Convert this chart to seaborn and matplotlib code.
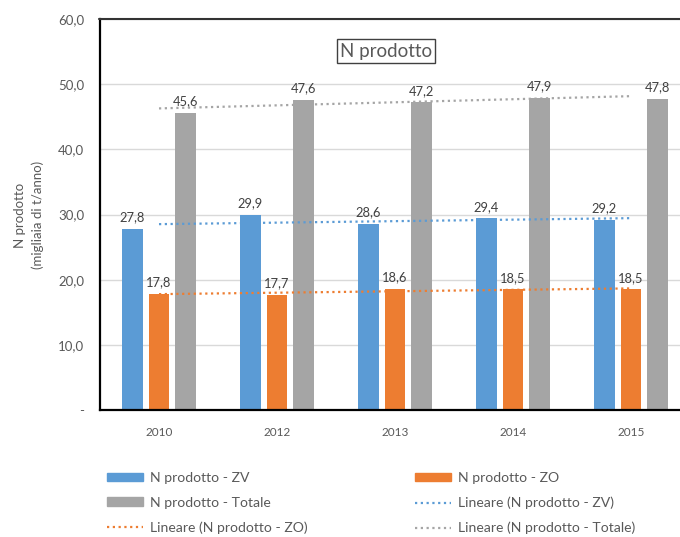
import numpy as np
import pandas as pd
import matplotlib
matplotlib.use("Agg")
import matplotlib.pyplot as plt
import seaborn as sns
from matplotlib.patches import Patch
from matplotlib.lines import Line2D

years = ["2010", "2012", "2013", "2014", "2015"]
zv = [27.8, 29.9, 28.6, 29.4, 29.2]
zo = [17.8, 17.7, 18.6, 18.5, 18.5]
totale = [45.6, 47.6, 47.2, 47.9, 47.8]
series_names = ["N prodotto - ZV", "N prodotto - ZO", "N prodotto - Totale"]
trend_names = ["Lineare (N prodotto - ZV)", "Lineare (N prodotto - ZO)", "Lineare (N prodotto - Totale)"]
colors = ["#5B9BD5", "#ED7D31", "#A5A5A5"]
y_ticks = [0, 10, 20, 30, 40, 50, 60]

sns.set_theme(style="white")
plt.rcParams["font.family"] = ["Lato", "DejaVu Sans"]

df = pd.DataFrame({
    "anno": years * 3,
    "valore": zv + zo + totale,
    "serie": [series_names[0]] * 5 + [series_names[1]] * 5 + [series_names[2]] * 5,
})

W, H = 680, 537
fig = plt.figure(figsize=(W / 100, H / 100), dpi=100)
ax = fig.add_axes([100 / W, 1 - 410 / H, 580 / W, (410 - 19) / H])

sns.barplot(data=df, x="anno", y="valore", hue="serie", palette=colors,
            width=0.675, gap=0.22, ax=ax, legend=False, saturation=1,
            edgecolor="none")

# data labels
for cont in ax.containers:
    labels = [f"{b.get_height():.1f}".replace(".", ",") for b in cont]
    ax.bar_label(cont, labels=labels, padding=4, fontsize=9.3, color="#404040")

# linear trendlines
xs = np.arange(len(years))
for vals, col in zip([zv, zo, totale], colors):
    p = np.polyfit(xs + 1, vals, 1)
    ax.plot(xs, np.polyval(p, xs + 1), color=col, linestyle=(0, (1, 1.6)),
            linewidth=1.6, zorder=3)

ax.set_ylim(0, 60)
# category width ~118 px, plot area cropped at the right edge of the picture
ax.set_xlim(-0.5, -0.5 + 580 / 118)
ax.set_yticks(y_ticks)
ax.set_yticklabels(["-" if t == 0 else f"{t:.1f}".replace(".", ",") for t in y_ticks])
ax.yaxis.grid(True, color="#D9D9D9", linewidth=1)
ax.set_axisbelow(True)
ax.tick_params(axis="y", length=0, labelsize=9.5, labelcolor="#595959", pad=11.5)
ax.tick_params(axis="x", length=0, labelsize=8.5, labelcolor="#595959", pad=12)
ax.set_xlabel("")
ax.set_ylabel("")
fig.text(29 / W, 1 - 215 / H, "N prodotto\n(migliaia di t/anno)", rotation=90,
         ha="center", va="center", multialignment="center", fontsize=9.5,
         color="#595959", linespacing=1.55)

for s in ["left", "bottom"]:
    ax.spines[s].set_color("black")
    ax.spines[s].set_linewidth(1.6)
ax.spines["top"].set_visible(False)
ax.spines["right"].set_visible(False)
# top border of the plot area
fig.add_artist(Line2D([99 / W, 1.0], [1 - 19 / H, 1 - 19 / H], transform=fig.transFigure,
                      color="#333333", linewidth=1.5, zorder=100))

fig.text(386 / W, 1 - 51 / H, "N prodotto", ha="center", va="center",
         fontsize=13.5, color="#595959",
         bbox=dict(boxstyle="square,pad=0.18", facecolor="white",
                   edgecolor="#404040", linewidth=1))

handles = [
    Patch(color=colors[0], label=series_names[0]),
    Patch(color=colors[2], label=series_names[2]),
    Line2D([], [], color=colors[1], linestyle=(0, (1, 1.6)), lw=1.6, label=trend_names[1]),
    Patch(color=colors[1], label=series_names[1]),
    Line2D([], [], color=colors[0], linestyle=(0, (1, 1.6)), lw=1.6, label=trend_names[0]),
    Line2D([], [], color=colors[2], linestyle=(0, (1, 1.6)), lw=1.6, label=trend_names[2]),
]
leg = fig.legend(handles=handles, ncol=2, loc="upper left",
                 bbox_to_anchor=(107 / W, 1 - 472 / H), frameon=False,
                 fontsize=10.1, labelcolor="#595959", handlelength=2.6,
                 handleheight=0.55, handletextpad=0.5, columnspacing=7.6,
                 labelspacing=0.9, borderaxespad=0, borderpad=0)

fig.savefig("out.png", dpi=100)
